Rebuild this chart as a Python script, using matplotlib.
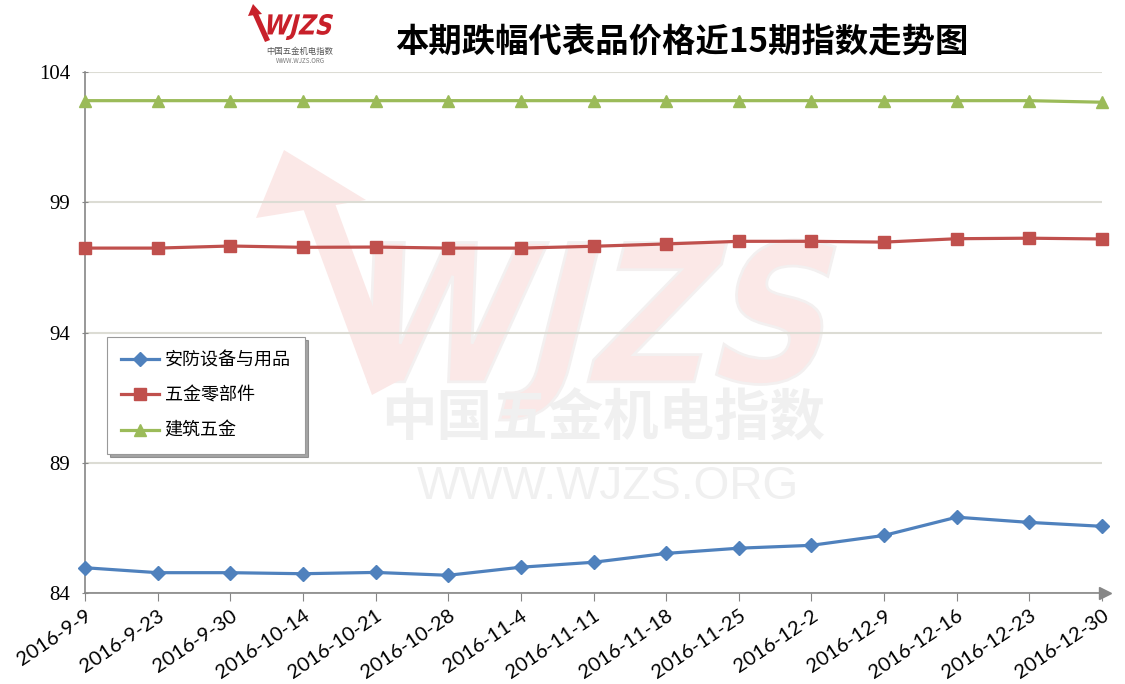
import numpy as np
import matplotlib
matplotlib.use("Agg")
import matplotlib.pyplot as plt
from matplotlib.textpath import TextPath
from matplotlib.font_manager import FontProperties
from matplotlib.patches import PathPatch, Polygon
from matplotlib.transforms import Affine2D

plt.rcParams['font.family'] = ['Noto Sans CJK SC', 'DejaVu Sans']

# data
dates = ["2016-9-9", "2016-9-23", "2016-9-30", "2016-10-14", "2016-10-21",
         "2016-10-28", "2016-11-4", "2016-11-11", "2016-11-18", "2016-11-25",
         "2016-12-2", "2016-12-9", "2016-12-16", "2016-12-23", "2016-12-30"]
anfang = [84.97, 84.78, 84.78, 84.74, 84.79, 84.68, 84.99, 85.18, 85.52,
          85.72, 85.83, 86.21, 86.91, 86.71, 86.56]
wujin_ljb = [97.24, 97.24, 97.32, 97.27, 97.28, 97.24, 97.24, 97.31, 97.40,
             97.50, 97.50, 97.47, 97.60, 97.62, 97.59]
jianzhu = [102.9, 102.9, 102.9, 102.9, 102.9, 102.9, 102.9, 102.9,
           102.9, 102.9, 102.9, 102.9, 102.9, 102.9, 102.84]
names = ["安防设备与用品", "五金零部件", "建筑五金"]
yticks = [84, 89, 94, 99, 104]

W, H = 1125, 684
fig = plt.figure(figsize=(W / 100, H / 100), dpi=100)
ax = fig.add_axes([85 / W, 1 - 593 / H, (1102 - 85) / W, (593 - 72) / H])
ax.set_facecolor("none")

# pixel (top-left origin) -> figure
pix = Affine2D().scale(1 / W, -1 / H).translate(0, 1) + fig.transFigure


def skew_text(text, x0, y0, w, h, color, edge, skew=14, z=-1):
    tp = TextPath((0, 0), text, size=1,
                  prop=FontProperties(family="DejaVu Sans", weight="bold"))
    bb = tp.get_extents()
    t = (Affine2D().translate(-bb.x0, -bb.y0)
         .scale(w / bb.width, h / bb.height)
         .skew_deg(skew, 0).scale(1, -1).translate(x0, y0 + h)) + pix
    p = PathPatch(tp, transform=t, facecolor=color, edgecolor=edge, lw=2, zorder=z)
    fig.add_artist(p)


# big watermark
wm = "#fbe8e7"
skew_text("WJZS", 330, 240, 470, 180, wm, "#f3f0f0")
fig.add_artist(Polygon([(284, 150), (256, 218), (366, 200)], closed=True,
                       transform=pix, facecolor=wm, edgecolor="none", zorder=-1))
fig.add_artist(Polygon([(300, 200), (330, 190), (400, 380), (372, 395)], closed=True,
                       transform=pix, facecolor=wm, edgecolor="none", zorder=-1))
fig.text(603 / W, 1 - 420 / H, "中国五金机电指数", fontsize=40, weight="bold",
         color="#f0f0f0", ha="center", va="center", zorder=-1)
fig.text(608 / W, 1 - 487 / H, "WWW.WJZS.ORG", fontsize=33, family="Liberation Sans",
         color="#f0f0f0", ha="center", va="center", zorder=-1)

# small logo at top
skew_text("WJZS", 262, 14, 66, 26, "#c8202a", "none", z=3)
fig.add_artist(Polygon([(253, 4), (248, 16), (262, 14)], closed=True, transform=pix,
                       facecolor="#c8202a", edgecolor="none", zorder=3))
fig.add_artist(Polygon([(252, 13), (257, 11), (270, 40), (265, 42)], closed=True,
                       transform=pix, facecolor="#c8202a", edgecolor="none", zorder=3))
fig.text(300 / W, 1 - 51 / H, "中国五金机电指数", fontsize=6, color="#555555",
         ha="center", va="center")
fig.text(300 / W, 1 - 61 / H, "WWW.WJZS.ORG", fontsize=4.5, color="#777777",
         ha="center", va="center", style="italic")

fig.text(682 / W, 1 - 42 / H, "本期跌幅代表品价格近15期指数走势图", fontsize=24,
         weight="heavy", ha="center", va="center", color="black")

x = np.arange(len(dates))
ax.plot(x, anfang, color="#4f81bd", lw=2.3, marker="D", ms=7, label=names[0],
        clip_on=False, zorder=4)
ax.plot(x, wujin_ljb, color="#c0504d", lw=2.3, marker="s", ms=8, label=names[1],
        clip_on=False, zorder=4)
ax.plot(x, jianzhu, color="#9bbb59", lw=2.3, marker="^", ms=9, label=names[2],
        clip_on=False, zorder=4)

ax.set_xlim(0, len(dates) - 1)
ax.set_ylim(84, 104)
ax.set_yticks(yticks)
ax.set_yticklabels([str(v) for v in yticks], family="Liberation Serif", fontsize=15)
ax.set_xticks(x)
ax.set_xticklabels(dates, rotation=34, ha="right", va="top", rotation_mode="anchor",
                   family="Lato", fontsize=14.5)
ax.tick_params(axis="x", length=6, color="#868686", pad=4)
ax.tick_params(axis="y", length=5, color="#868686", pad=8, direction="inout")

ax.grid(axis="y", color="#dcdcd4", lw=1.5)
ax.set_axisbelow(True)
for s in ["top", "right"]:
    ax.spines[s].set_visible(False)
for s in ["left", "bottom"]:
    ax.spines[s].set_color("#868686")
    ax.spines[s].set_linewidth(1.2)
ax.plot(1.003, 0, ">", color="#868686", ms=8, transform=ax.transAxes, clip_on=False)

leg = ax.legend(loc="upper left", bbox_to_anchor=(0.0216, 0.491), borderaxespad=0,
                fancybox=False, shadow=True, framealpha=1, edgecolor="#999999",
                fontsize=13, handlelength=2.1, labelspacing=0.95, borderpad=0.8,
                handletextpad=0.3)
leg.get_frame().set_linewidth(0.8)

plt.savefig("out.png", dpi=100)
